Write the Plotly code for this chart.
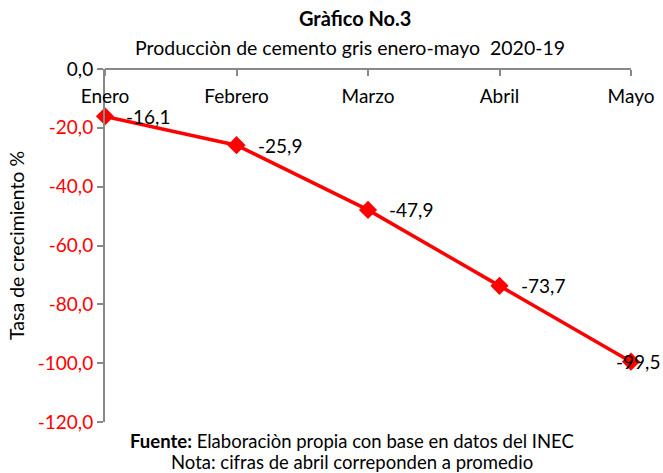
import plotly.graph_objects as go

months = ["Enero", "Febrero", "Marzo", "Abril", "Mayo"]
growth = [-16.1, -25.9, -47.9, -73.7, -99.5]
label_anchor = ["left", "left", "left", "left", "right"]
label_shift = [20, 20, 20, 20, 30]
y_tickvals = [0, -20, -40, -60, -80, -100, -120]
y_ticktext = ["<span style='color:black'>0,0</span>", "-20,0", "-40,0", "-60,0", "-80,0", "-100,0", "-120,0"]

FONT = "Lato"
fig = go.Figure()
fig.add_trace(go.Scatter(
    x=months, y=growth,
    mode="lines+markers",
    line=dict(color="#FF0000", width=3.5),
    marker=dict(symbol="diamond", size=14, color="#FF0000"),
    cliponaxis=False,
    showlegend=False,
))

annotations = [
    dict(text="<b>Gràfico No.3</b>", xref="paper", yref="paper", x=0.475, y=1, yshift=51,
         showarrow=False, font=dict(family=FONT, size=20), xanchor="center", yanchor="middle"),
    dict(text="Producciòn de cemento gris enero-mayo  2020-19", xref="paper", yref="paper", x=0.465, y=1, yshift=22,
         showarrow=False, font=dict(family=FONT, size=19.5), xanchor="center", yanchor="middle"),
    dict(text="<b>Fuente:</b> Elaboraciòn propia con base en datos del INEC", xref="paper", yref="paper", x=0.47, y=0, yshift=-19,
         showarrow=False, font=dict(family=FONT, size=18.5), xanchor="center", yanchor="middle"),
    dict(text="Nota: cifras de abril correponden a promedio", xref="paper", yref="paper", x=0.47, y=0, yshift=-40,
         showarrow=False, font=dict(family=FONT, size=18.5), xanchor="center", yanchor="middle"),
]
for m, v, a, s in zip(months, growth, label_anchor, label_shift):
    annotations.append(dict(
        text=f"{v:.1f}".replace(".", ","), x=m, y=v, xref="x", yref="y",
        showarrow=False, xanchor=a, yanchor="middle", xshift=s, borderpad=0,
        font=dict(family=FONT, size=19, color="black"),
    ))

fig.update_layout(
    width=663, height=473,
    margin=dict(l=105, r=32, t=69, b=51, autoexpand=False),
    paper_bgcolor="white", plot_bgcolor="white",
    font=dict(family=FONT, size=19, color="black"),
    xaxis=dict(
        anchor="free", position=1, side="bottom",
        range=[0, 4], showgrid=False, zeroline=False,
        showline=True, linecolor="#898989", linewidth=2,
        ticks="outside", ticklen=6, tickcolor="#898989", tickwidth=2,
        ticklabelstandoff=4, automargin=False,
        tickfont=dict(family=FONT, size=19, color="black"),
    ),
    yaxis=dict(
        range=[-120, 0], tickvals=y_tickvals, ticktext=y_ticktext,
        showgrid=False, zeroline=False, automargin=False,
        showline=True, linecolor="#898989", linewidth=2,
        ticks="outside", ticklen=6, tickcolor="#898989", tickwidth=2,
        tickfont=dict(family=FONT, size=19, color="#FF0000"),
        title=dict(text="Tasa de crecimiento %", font=dict(family=FONT, size=19.5, color="black"), standoff=8),
    ),
    annotations=annotations,
)

fig.write_html("out.html", config={"displayModeBar": False},
               post_script="document.body.style.margin='0';")
